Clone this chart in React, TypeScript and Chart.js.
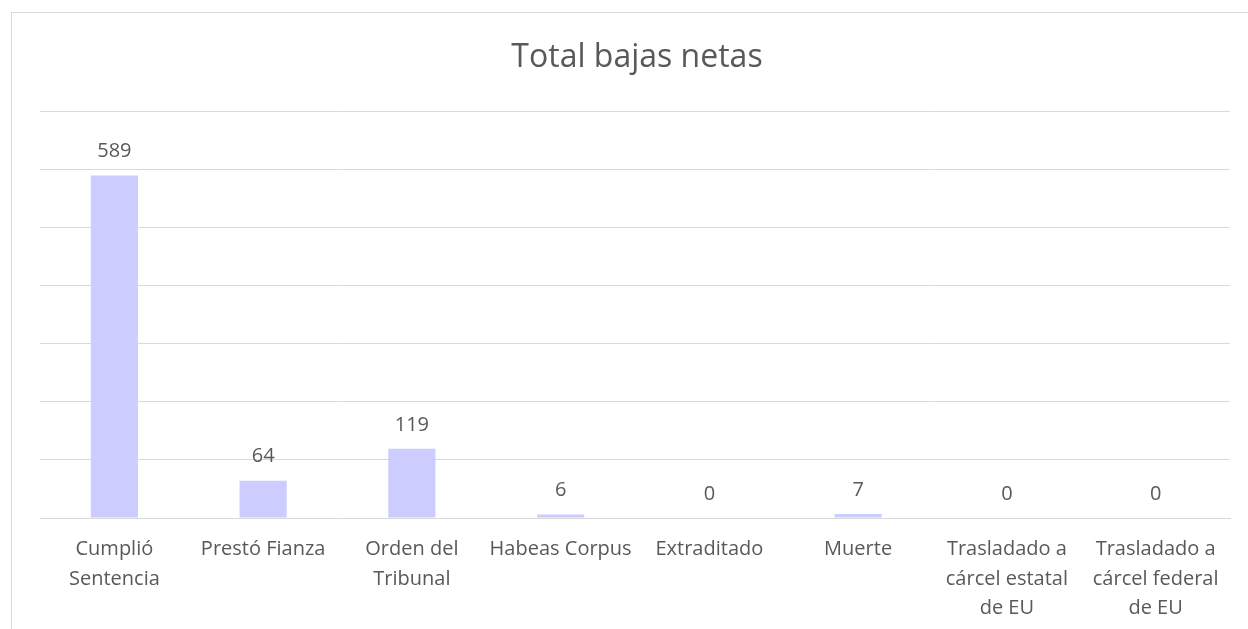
import React, { useEffect, useRef } from "react";
import { Chart, registerables } from "chart.js";

Chart.register(...registerables);

const TITLE = "Total bajas netas";
const categories: string[][] = [
  ["Cumplió", "Sentencia"],
  ["Prestó Fianza"],
  ["Orden del", "Tribunal"],
  ["Habeas Corpus"],
  ["Extraditado"],
  ["Muerte"],
  ["Trasladado a", "cárcel estatal", "de EU"],
  ["Trasladado a", "cárcel federal", "de EU"],
];
const values: number[] = [589, 64, 119, 6, 0, 7, 0, 0];
const yMax = 700;
const yStep = 100;

const FONT = "'Open Sans', sans-serif";
const TEXT = "#595959";

const titlePlugin = {
  id: "customTitle",
  afterDraw(chart: any) {
    const ctx = chart.ctx;
    ctx.save();
    ctx.font = `32px ${FONT}`;
    ctx.fillStyle = TEXT;
    ctx.textAlign = "center";
    ctx.textBaseline = "middle";
    ctx.fillText(TITLE, 637, 58);
    ctx.restore();
  },
};

const labelPlugin = {
  id: "valueLabels",
  afterDatasetsDraw(chart: any) {
    const ctx = chart.ctx;
    const meta = chart.getDatasetMeta(0);
    ctx.save();
    ctx.font = `20px ${FONT}`;
    ctx.fillStyle = TEXT;
    ctx.textAlign = "center";
    ctx.textBaseline = "middle";
    meta.data.forEach((bar: any, i: number) => {
      ctx.fillText(String(values[i]), bar.x, bar.y - 24);
    });
    ctx.restore();
  },
};

export default function App() {
  const ref = useRef<HTMLCanvasElement | null>(null);
  useEffect(() => {
    if (!ref.current) return;
    const chart = new Chart(ref.current, {
      type: "bar",
      data: {
        labels: categories,
        datasets: [
          {
            data: values,
            backgroundColor: "#CCCCFF",
            borderWidth: 0,
            barPercentage: 0.317,
            categoryPercentage: 1,
          },
        ],
      },
      options: {
        responsive: false,
        animation: false,
        layout: { padding: { top: 111, right: 18, left: 0, bottom: 0 } },
        plugins: {
          legend: { display: false },
          title: { display: false },
          tooltip: { enabled: false },
        },
        scales: {
          x: {
            grid: { display: false, drawTicks: false },
            border: { display: true, color: "#d9d9d9", width: 1 },
            ticks: {
              color: TEXT,
              font: { family: FONT, size: 20, lineHeight: 1.47 },
              padding: 17,
              maxRotation: 0,
              autoSkip: false,
            },
            afterFit(scale: any) {
              scale.height = 111;
            },
          },
          y: {
            min: 0,
            max: yMax,
            ticks: { display: false, stepSize: yStep },
            grid: { color: "#d9d9d9", lineWidth: 1, drawTicks: false },
            border: { display: false },
            afterFit(scale: any) {
              scale.width = 40;
            },
          },
        },
      },
      plugins: [titlePlugin, labelPlugin],
    });
    return () => chart.destroy();
  }, []);
  return (
    <div style={{ position: "fixed", inset: 0, overflow: "hidden", background: "#fff" }}>
      <div
        style={{
          position: "absolute",
          left: 11,
          top: 12,
          width: 1300,
          height: 700,
          border: "1px solid #d9d9d9",
        }}
      />
      <canvas
        ref={ref}
        width={1248}
        height={629}
        style={{ position: "absolute", left: 0, top: 0, width: 1248, height: 629 }}
      />
    </div>
  );
}
